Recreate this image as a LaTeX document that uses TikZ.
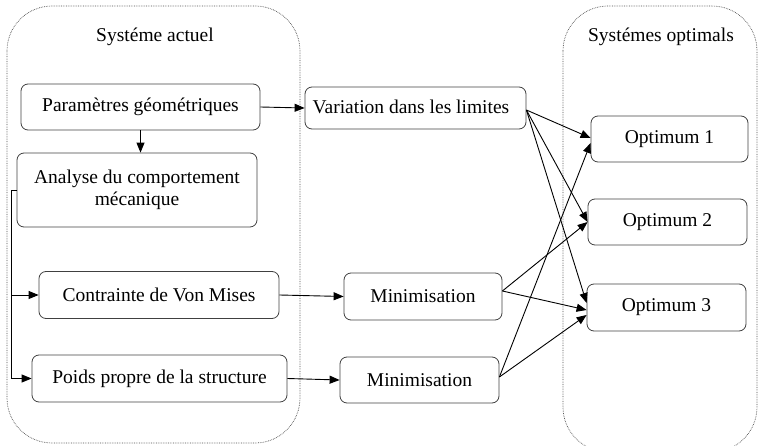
\documentclass[tikz,border=0pt]{standalone}
\usepackage{fontspec}
\setmainfont{Liberation Serif}
\usetikzlibrary{arrows.meta}
\begin{document}
\begin{tikzpicture}[x=1pt,y=-1pt,
  font=\fontsize{19.5}{23}\selectfont,
  grp/.style={draw=black!70, densely dotted, line width=0.7pt, rounded corners=45pt},
  box/.style={draw=black!75, line width=0.8pt, rounded corners=7pt, inner sep=0pt, align=center},
  arr/.style={-{Triangle[length=10pt,width=8pt]}, line width=0.9pt},
  ln/.style={line width=0.8pt}]
\useasboundingbox (0,0) rectangle (758,446);
\draw[grp] (7,6) rectangle (300,443);
\draw[grp] (563,6) rectangle (757,452);
\node (t1) at (155,37) {Systéme actuel};
\node (t2) at (661,37) {Systémes optimals};

\node[box, minimum width=239pt, minimum height=46pt] (param) at (140.5,107) {Paramètres géométriques};
\node[box, minimum width=240pt, minimum height=74pt] (analyse) at (137,190) {\raisebox{3pt}{\begin{tabular}{@{}c@{}}Analyse du comportement\\[-1pt]mécanique\end{tabular}}};
\node[box, minimum width=240pt, minimum height=47pt] (contrainte) at (159,295) {Contrainte de Von Mises};
\node[box, minimum width=255pt, minimum height=47pt] (poids) at (159.5,378.5) {Poids propre de la structure};
\node[box, minimum width=221pt, minimum height=42pt] (variation) at (415.5,108) {\hspace*{-9pt}\raisebox{2pt}{Variation dans les limites}};
\node[box, minimum width=158pt, minimum height=47pt] (min1) at (423,296.5) {Minimisation};
\node[box, minimum width=159pt, minimum height=46pt] (min2) at (419.5,380) {Minimisation};
\node[box, minimum width=157pt, minimum height=46pt] (opt1) at (669.5,139) {Optimum 1};
\node[box, minimum width=159pt, minimum height=46pt] (opt2) at (667.5,222) {Optimum 2};
\node[box, minimum width=159pt, minimum height=47pt] (opt3) at (666.5,307.5) {Optimum 3};

\coordinate (bk) at (11,190);
\draw[arr] (param.east) -- (variation.west);
\draw[arr] (param.south) -- (param.south |- analyse.north);
\draw[arr] (analyse.west) -- (bk) |- (poids.west);
\draw[arr] (bk |- contrainte.west) -- (contrainte.west);
\draw[arr] (contrainte.east) -- (min1.west);
\draw[arr] (poids.east) -- (min2.west);

\draw[arr] ([yshift=-2pt]variation.east) -- ([yshift=1pt]opt1.west);
\draw[arr] ([yshift=-2pt]variation.east) -- (opt2.west);
\draw[arr] ([yshift=-2pt]variation.east) -- ([yshift=4.5pt]opt3.west);
\draw[arr] ([yshift=5.5pt]min1.east) -- (opt2.west);
\draw[arr] ([yshift=5.5pt]min1.east) -- ([yshift=-2.5pt]opt3.west);
\draw[arr] ([yshift=3pt]min2.east) -- ([yshift=-4pt]opt1.west);
\draw[arr] ([yshift=3pt]min2.east) -- ([yshift=-7.5pt]opt3.west);
\end{tikzpicture}
\end{document}
